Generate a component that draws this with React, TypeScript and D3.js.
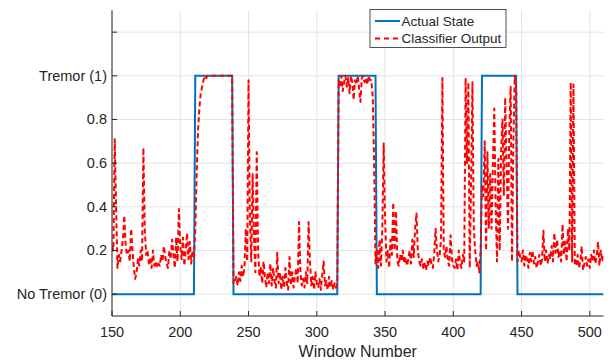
import React from "react";
import * as d3 from "d3";

const W = 611;
const H = 362;

const xTicks = [150, 200, 250, 300, 350, 400, 450, 500];
const yTicks = [0, 0.2, 0.4, 0.6, 0.8, 1, 1.2];
const yTickLabels = ["No Tremor (0)", "0.2", "0.4", "0.6", "0.8", "Tremor (1)", ""];

const seriesNames = ["Actual State", "Classifier Output"];

// Actual state as step breakpoints [window, state]
const actualState: [number, number][] = [
  [150, 0], [210, 0], [211, 1], [238, 1], [239, 0],
  [315, 0], [316, 1], [343, 1], [344, 0],
  [420, 0], [421, 1], [446, 1], [447, 0], [510, 0],
];

const firstWindow = 150;
// Classifier output, one value per window, starting at window 150
const classifierOutput = [
  // 150-159
  0.22, 0.2, 0.71, 0.4, 0.12, 0.18, 0.15, 0.2, 0.25, 0.36,
  // 160-169
  0.22, 0.18, 0.2, 0.15, 0.3, 0.2, 0.12, 0.07, 0.1, 0.16,
  // 170-179
  0.13, 0.2, 0.15, 0.67, 0.3, 0.18, 0.2, 0.14, 0.16, 0.12,
  // 180-189
  0.2, 0.13, 0.15, 0.12, 0.14, 0.13, 0.18, 0.15, 0.22, 0.17,
  // 190-199
  0.14, 0.12, 0.2, 0.16, 0.25, 0.18, 0.12, 0.26, 0.15, 0.39,
  // 200-209
  0.22, 0.16, 0.26, 0.13, 0.2, 0.28, 0.16, 0.24, 0.14, 0.2,
  // 210-219
  0.16, 0.3, 0.55, 0.75, 0.85, 0.92, 0.95, 0.98, 1.0, 0.99,
  // 220-229
  1.0, 1.0, 1.0, 1.0, 1.0, 1.0, 1.0, 1.0, 1.0, 1.0,
  // 230-239
  1.0, 1.0, 1.0, 1.0, 1.0, 1.0, 1.0, 1.0, 1.0, 0.05,
  // 240-249
  0.05, 0.08, 0.04, 0.1, 0.06, 0.13, 0.08, 0.12, 0.3, 0.15,
  // 250-259
  0.98, 0.35, 0.15, 0.55, 0.25, 0.1, 0.65, 0.2, 0.08, 0.12,
  // 260-269
  0.05, 0.15, 0.08, 0.03, 0.1, 0.05, 0.14, 0.04, 0.12, 0.06,
  // 270-279
  0.03, 0.19, 0.05, 0.1, 0.02, 0.08, 0.03, 0.12, 0.05, 0.02,
  // 280-289
  0.17, 0.04, 0.1, 0.03, 0.08, 0.12, 0.05, 0.33, 0.1, 0.04,
  // 290-299
  0.07, 0.03, 0.1, 0.05, 0.33, 0.15, 0.04, 0.08, 0.02, 0.1,
  // 300-309
  0.05, 0.03, 0.07, 0.02, 0.09, 0.15, 0.04, 0.06, 0.02, 0.08,
  // 310-319
  0.03, 0.06, 0.02, 0.05, 0.03, 0.05, 0.98, 0.95, 1.0, 0.93,
  // 320-329
  0.97, 1.0, 0.95, 0.99, 0.92, 1.0, 0.97, 0.89, 0.98, 0.96,
  // 330-339
  1.0, 0.94, 0.88, 0.99, 1.0, 0.97, 0.99, 0.96, 1.0, 0.98,
  // 340-349
  0.98, 0.9, 0.6, 0.14, 0.2, 0.12, 0.25, 0.13, 0.3, 0.69,
  // 350-359
  0.35, 0.15, 0.2, 0.12, 0.25, 0.18, 0.42, 0.2, 0.38, 0.15,
  // 360-369
  0.13, 0.18, 0.15, 0.2, 0.14, 0.17, 0.13, 0.16, 0.2, 0.14,
  // 370-379
  0.25, 0.17, 0.3, 0.37, 0.2, 0.15, 0.13, 0.16, 0.12, 0.14,
  // 380-389
  0.11, 0.15, 0.13, 0.17, 0.14, 0.12, 0.18, 0.3, 0.2, 0.15,
  // 390-399
  0.18, 0.25, 0.99, 0.2, 0.17, 0.22, 0.15, 0.13, 0.27, 0.16,
  // 400-409
  0.13, 0.12, 0.16, 0.11, 0.2, 0.14, 0.12, 0.18, 0.15, 0.99,
  // 410-419
  0.6, 0.97, 0.12, 0.5, 0.97, 0.3, 0.2, 0.13, 0.15, 0.1,
  // 420-429
  0.2, 0.5, 0.45, 0.7, 0.2, 0.65, 0.3, 0.55, 0.3, 0.6,
  // 430-439
  0.85, 0.4, 0.15, 0.62, 0.2, 0.65, 0.8, 0.45, 0.9, 0.6,
  // 440-449
  0.3, 0.75, 0.95, 0.15, 0.7, 1.0, 0.95, 0.15, 0.2, 0.17,
  // 450-459
  0.15, 0.2, 0.13, 0.18, 0.16, 0.12, 0.19, 0.15, 0.2, 0.14,
  // 460-469
  0.17, 0.12, 0.15, 0.18, 0.13, 0.16, 0.29, 0.15, 0.2, 0.14,
  // 470-479
  0.18, 0.16, 0.22, 0.15, 0.28, 0.19, 0.25, 0.17, 0.2, 0.15,
  // 480-489
  0.32, 0.18, 0.24, 0.15, 0.3, 0.2, 0.97, 0.15, 0.96, 0.14,
  // 490-499
  0.13, 0.18, 0.12, 0.15, 0.22, 0.11, 0.14, 0.17, 0.13, 0.16,
  // 500-510
  0.12, 0.18, 0.15, 0.2, 0.14, 0.17, 0.24, 0.13, 0.2, 0.15, 0.18,
];

const FONT = "'Liberation Sans', Arial, Helvetica, sans-serif";
const TEXT = "#262626";
const GRID = "#e3e3e3";
const BLUE = "#0072BD";
const RED = "#FF0000";

export default function App() {
  const left = 112;
  const right = 603.5;
  const top = 10.3;
  const bottom = 316;

  const x = d3.scaleLinear().domain([150, 510]).range([left, right]);
  const y = d3.scaleLinear().domain([-0.1, 1.3]).range([bottom, top]);

  const lineGen = d3
    .line<[number, number]>()
    .x((d) => x(d[0]))
    .y((d) => y(d[1]));

  const classData: [number, number][] = classifierOutput.map((v, i) => [firstWindow + i, v]);

  const legX = 370;
  const legY = 9.5;
  const legW = 136;
  const legH = 38;

  return (
    <svg
      width={W}
      height={H}
      style={{ position: "absolute", left: 0, top: 0, background: "#fff" }}
      fontFamily={FONT}
    >
      <defs>
        <clipPath id="plotclip">
          <rect x={left} y={top} width={right - left} height={bottom - top} />
        </clipPath>
      </defs>
      <rect x={0} y={0} width={W} height={H} fill="#fff" />
      {/* grid */}
      {xTicks.map((t) => (
        <line key={"gx" + t} x1={x(t)} x2={x(t)} y1={top} y2={bottom} stroke={GRID} strokeWidth={1} />
      ))}
      {yTicks.map((t) => (
        <line key={"gy" + t} x1={left} x2={right} y1={y(t)} y2={y(t)} stroke={GRID} strokeWidth={1} />
      ))}

      {/* data */}
      <g clipPath="url(#plotclip)">
        <path d={lineGen(actualState) || ""} fill="none" stroke={BLUE} strokeWidth={2} strokeLinejoin="miter" />
        <path
          d={lineGen(classData) || ""}
          fill="none"
          stroke={RED}
          strokeWidth={2}
          strokeDasharray="5,3"
          strokeLinejoin="round"
        />
      </g>

      {/* axes */}
      <line x1={left} x2={left} y1={top} y2={bottom} stroke={TEXT} strokeWidth={1} />
      <line x1={left} x2={right} y1={bottom} y2={bottom} stroke={TEXT} strokeWidth={1} />
      {xTicks.map((t) => (
        <g key={"xt" + t}>
          <line x1={x(t)} x2={x(t)} y1={bottom} y2={bottom - 5} stroke={TEXT} strokeWidth={1} />
          <text x={x(t)} y={bottom + 21} textAnchor="middle" fontSize={14.5} fill={TEXT}>
            {t}
          </text>
        </g>
      ))}
      {yTicks.map((t, i) => (
        <g key={"yt" + t}>
          <line x1={left} x2={left + 5} y1={y(t)} y2={y(t)} stroke={TEXT} strokeWidth={1} />
          <text x={left - 5} y={y(t) + 5} textAnchor="end" fontSize={14.5} fill={TEXT}>
            {yTickLabels[i]}
          </text>
        </g>
      ))}
      <text x={(left + right) / 2} y={357} textAnchor="middle" fontSize={16} fill={TEXT}>
        Window Number
      </text>

      {/* legend */}
      <rect x={legX} y={legY} width={legW} height={legH} fill="#fff" stroke={TEXT} strokeWidth={0.8} />
      <line x1={legX + 5} x2={legX + 30} y1={legY + 11.5} y2={legY + 11.5} stroke={BLUE} strokeWidth={2} />
      <text x={legX + 31.5} y={legY + 16.2} fontSize={13.5} fill={TEXT}>
        {seriesNames[0]}
      </text>
      <line
        x1={legX + 5}
        x2={legX + 30}
        y1={legY + 29}
        y2={legY + 29}
        stroke={RED}
        strokeWidth={2}
        strokeDasharray="5,4"
      />
      <text x={legX + 31.5} y={legY + 33.7} fontSize={13.5} fill={TEXT}>
        {seriesNames[1]}
      </text>
    </svg>
  );
}
